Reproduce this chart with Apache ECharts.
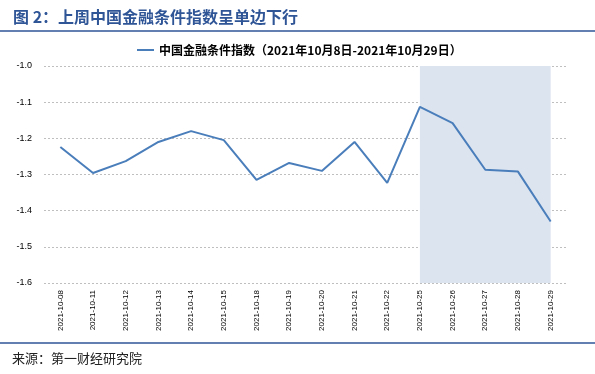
<!DOCTYPE html>
<html><head><meta charset="utf-8">
<script src="https://cdn.jsdelivr.net/npm/echarts@6/dist/echarts.min.js"></script>
<style>html,body{margin:0;padding:0;background:#fff}#c{width:595px;height:374px}</style>
</head><body><div id="c"></div>
<script>
const categories = ['2021-10-08','2021-10-11','2021-10-12','2021-10-13','2021-10-14','2021-10-15','2021-10-18','2021-10-19','2021-10-20','2021-10-21','2021-10-22','2021-10-25','2021-10-26','2021-10-27','2021-10-28','2021-10-29'];
const indexValues = [-1.224,-1.296,-1.263,-1.210,-1.180,-1.205,-1.315,-1.268,-1.290,-1.210,-1.323,-1.113,-1.158,-1.287,-1.292,-1.430];
const seriesName = '中国金融条件指数（2021年10月8日-2021年10月29日）';
const shadeStart = '2021-10-25';
const shadeEnd = '2021-10-29';
const titleText = '图 2：上周中国金融条件指数呈单边下行';
const sourceText = '来源：第一财经研究院';

const chart = echarts.init(document.getElementById('c'));
chart.setOption({
  animation: false,
  backgroundColor: '#fff',
  title: {
    text: titleText, left: 8, top: 4,
    textStyle: {color: '#2f5597', fontSize: 16, fontWeight: 'bold', fontFamily: 'Noto Sans CJK SC'}
  },
  legend: {
    top: 39, left: 132, itemWidth: 17, itemHeight: 2, itemGap: 2,
    icon: 'rect',
    textStyle: {color: '#000', fontSize: 12, fontWeight: 'bold', fontFamily: 'Noto Sans CJK SC'},
    data: [seriesName]
  },
  graphic: [
    {type: 'line', shape: {x1: 0, y1: 31, x2: 595, y2: 31}, style: {stroke: '#2f5597', lineWidth: 1.5}},
    {type: 'line', shape: {x1: 0, y1: 343, x2: 595, y2: 343}, style: {stroke: '#2f5597', lineWidth: 1.5}},
    {type: 'text', left: 12, top: 352, style: {text: sourceText, fill: '#222', font: '13px "Noto Sans CJK SC"'}}
  ],
  grid: {left: 44, right: 28, top: 66, bottom: 91},
  xAxis: {
    type: 'category', data: categories, boundaryGap: true,
    axisLine: {show: false}, axisTick: {show: false},
    axisLabel: {rotate: 90, fontSize: 8, color: '#000', margin: 7, fontFamily: 'Liberation Sans', interval: 0}
  },
  yAxis: {
    type: 'value', min: -1.6, max: -1.0, interval: 0.1,
    axisLine: {show: false}, axisTick: {show: false},
    axisLabel: {fontSize: 9, color: '#000', margin: 12, fontFamily: 'Liberation Sans', formatter: v => v.toFixed(1)},
    splitLine: {lineStyle: {color: '#bfbfbf', type: [2, 2], width: 1}}
  },
  series: [{
    name: seriesName, type: 'line', data: indexValues,
    symbol: 'none', lineStyle: {color: '#4a7ebb', width: 2}, itemStyle: {color: '#4a7ebb'},
    markArea: {silent: true, itemStyle: {color: '#dce4f0'}, data: [[{xAxis: shadeStart}, {xAxis: shadeEnd}]]}
  }]
});
</script></body></html>
